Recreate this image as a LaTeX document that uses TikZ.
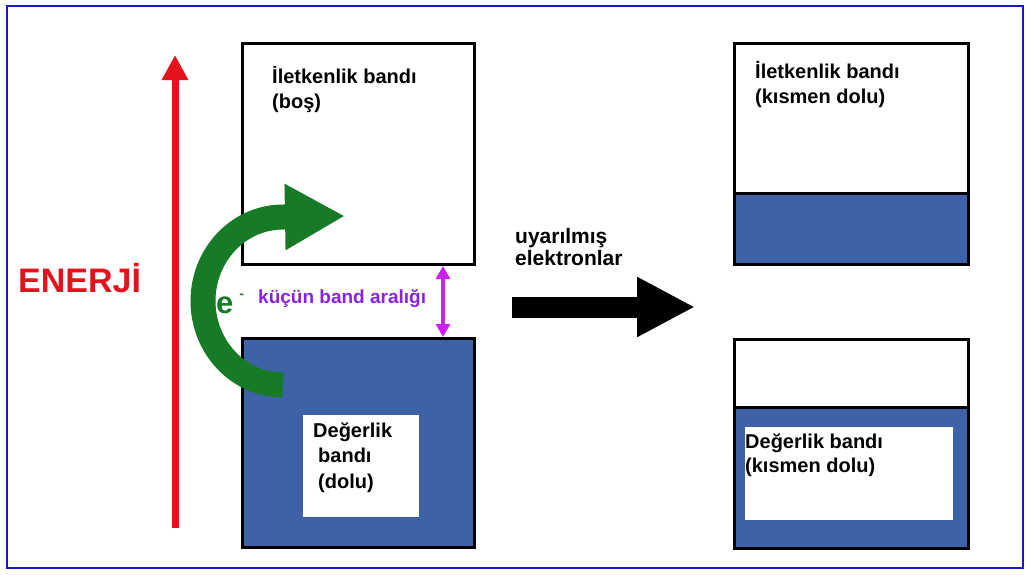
\documentclass[tikz,border=0pt]{standalone}
\usepackage{fontspec}
\setmainfont{Liberation Sans}
\usetikzlibrary{arrows.meta,positioning}

\definecolor{bandblue}{RGB}{62,98,168}
\definecolor{enred}{RGB}{228,18,28}
\definecolor{egreen}{RGB}{22,122,38}
\definecolor{gapviolet}{RGB}{204,34,238}
\definecolor{gaptext}{RGB}{138,34,226}
\definecolor{frameblue}{RGB}{24,24,196}

\begin{document}
\begin{tikzpicture}[x=1pt, y=-1pt,
  band/.style={draw, line width=3pt, minimum width=232pt, minimum height=221pt, inner sep=0pt, anchor=north west},
  hole/.style={fill=white, inner sep=0pt, anchor=north west},
  lbl/.style={anchor=base west, align=left, inner sep=0pt, font=\bfseries\fontsize{20}{25}\selectfont}]

\useasboundingbox (0,0) rectangle (1030,574);
\draw[frameblue, line width=2.5pt] (7,6) rectangle (1023,568);

% filled parts of the bands
\fill[bandblue] (241,337) rectangle (473,546);
\fill[bandblue] (733,193) rectangle (967,263);
\fill[bandblue] (733,407) rectangle (967,547);
\node[hole, minimum width=116pt, minimum height=102pt] (vhole) at (303,415) {};
\node[hole, minimum width=208pt, minimum height=93pt] (vhole2) at (745,427) {};

% bands
\node[band] (cb) at (241,42) {};
\node[band, minimum height=209pt] (vb) at (241,337) {};
\node[band, minimum width=234pt] (cb2) at (733,42) {};
\node[band, minimum width=234pt, minimum height=209pt] (vb2) at (733,338) {};
\draw[line width=3pt] (733,193) -- (967,193);
\draw[line width=3pt] (733,407) -- (967,407);

% labels (anchored at the last baseline)
\node[lbl] (cbt) at (272,108) {İletkenlik bandı\\(boş)};
\node[lbl, font=\bfseries\fontsize{20}{25.5}\selectfont] (vbt) at (313,488) {Değerlik\\\hspace{5pt}bandı\\\hspace{5pt}(dolu)};
\node[lbl] (cb2t) at (755,103) {İletkenlik bandı\\(kısmen dolu)};
\node[lbl, font=\bfseries\fontsize{20}{24}\selectfont] (vb2t) at (745,472) {Değerlik bandı\\(kısmen dolu)};

% energy axis
\coordinate (ebot) at (175,528);
\coordinate (etop) at (175,55);
\draw[enred, line width=7pt, -{Triangle[length=25pt,width=25pt]}] (ebot) -- (etop);
\node[anchor=base west, inner sep=0pt, text=enred, font=\bfseries\fontsize{34}{34}\selectfont] (en) at (18,292) {ENERJİ};

% excited electron
\draw[egreen, line width=25pt, -{Triangle[length=60pt,width=62pt]}]
  (283,385) arc[start angle=90, end angle=270, x radius=80, y radius=84] -- (345,216);
\node[anchor=base west, inner sep=0pt, text=egreen, font=\bfseries\fontsize{31}{31}\selectfont] (el) at (216,313) {e\hspace{6pt}\raisebox{15pt}{\fontsize{14}{14}\selectfont -}};

% band gap
\coordinate (gap) at (443,0);
\draw[gapviolet, line width=4pt, {Triangle[length=13pt,width=14pt]}-{Triangle[length=13pt,width=14pt]}] (cb.south -| gap) -- (vb.north -| gap);
\node[anchor=base west, inner sep=0pt, text=gaptext, font=\bfseries\fontsize{19}{19}\selectfont] (gapt) at (258,303) {küçün band aralığı};

% excitation
\coordinate (ustart) at (512,307);
\coordinate (uend) at (695,307);
\draw[line width=21pt, -{Triangle[length=58pt,width=56pt]}] (ustart) -- (uend);
\node[lbl, font=\bfseries\fontsize{21}{22}\selectfont] (ut) at (515,265) {uyarılmış\\elektronlar};

\end{tikzpicture}
\end{document}
